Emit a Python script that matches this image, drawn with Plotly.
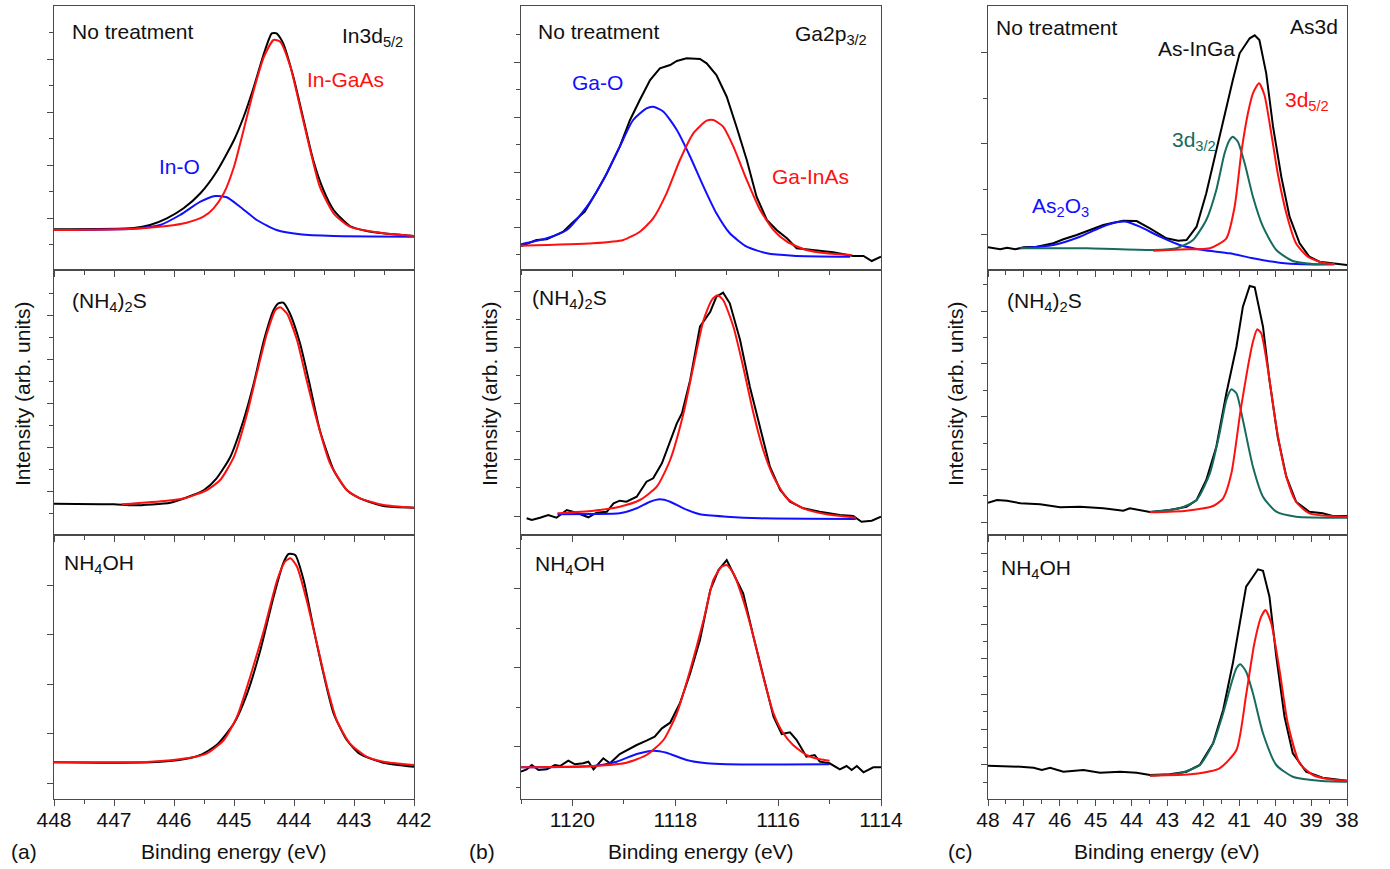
import plotly.graph_objects as go

# ---------------- data (binding energy in eV, intensity in arb. units) ----------------
# Column (a) In3d5/2
A1_bk_x = [448, 446.67, 446.4, 446.12, 445.84, 445.56, 445.29, 445.0, 444.84, 444.67, 444.5, 444.37, 444.29, 444.18, 444.01, 443.84, 443.68, 443.51, 443.34, 443.07, 442.79, 442.51, 442]
A1_bk_y = [40.7, 42, 45, 51.7, 61.7, 76.7, 98.3, 130, 153, 183, 216.7, 236.7, 236.7, 226.7, 193, 150, 110, 80, 60, 44, 39, 36.7, 34]
A1_rd_x = [448, 446.67, 446.12, 445.79, 445.51, 445.34, 445.17, 445.0, 444.84, 444.67, 444.5, 444.34, 444.23, 444.06, 443.9, 443.73, 443.57, 443.34, 443.07, 442.51, 442]
A1_rd_y = [40, 41.3, 44, 47.3, 53.3, 61.7, 76.7, 103.3, 140, 180, 213.3, 230, 228.3, 203.3, 163.3, 120, 83.3, 56.7, 43.3, 36.7, 34]
A1_bl_x = [448, 446.67, 446.23, 445.9, 445.56, 445.31, 445.12, 444.9, 444.62, 444.29, 443.9, 443.34, 442]
A1_bl_y = [40, 41.3, 45, 55, 68.3, 74, 72.7, 63.3, 50, 40, 35.7, 34, 33.3]

A2_bk_x = [448, 447.0, 446.67, 446.06, 445.78, 445.5, 445.29, 445.06, 444.84, 444.67, 444.5, 444.34, 444.26, 444.18, 444.07, 443.9, 443.73, 443.57, 443.34, 443.12, 442.9, 442.51, 442]
A2_bk_y = [31.3, 30.7, 29.7, 32.3, 37.7, 45, 56.7, 78.3, 115, 151.7, 195, 225, 231.7, 232.3, 221.7, 191.7, 148.3, 105, 65, 45, 36.7, 29, 27.3]
A2_rd_x = [446.87, 446.12, 445.79, 445.45, 445.23, 445.0, 444.78, 444.62, 444.45, 444.31, 444.23, 444.12, 443.95, 443.79, 443.62, 443.4, 443.12, 442.9, 442.51, 442]
A2_rd_y = [30.7, 34.3, 37.3, 45, 55, 78.3, 121.7, 161.7, 201.7, 225, 227.7, 221.7, 195, 155, 115, 71.7, 45, 36.7, 30, 27.3]

A3_bk_x = [448, 447.23, 446.4, 445.84, 445.56, 445.29, 445.0, 444.78, 444.56, 444.34, 444.18, 444.09, 443.98, 443.84, 443.68, 443.51, 443.34, 443.12, 442.9, 442.51, 442]
A3_bk_y = [36.7, 36.3, 36.7, 39.7, 44, 54, 75.7, 105.7, 149, 202.3, 235.7, 245, 244, 219, 172.3, 125.7, 85.7, 59, 45, 36.3, 32.3]
A3_rd_x = [448, 446.4, 445.79, 445.45, 445.17, 444.95, 444.73, 444.5, 444.28, 444.15, 444.06, 443.95, 443.79, 443.62, 443.45, 443.29, 443.07, 442.79, 442.51, 442]
A3_rd_y = [36.7, 37.3, 40.7, 45.7, 59, 82.3, 122.3, 169, 219, 237.3, 240.7, 232.3, 199, 155.7, 112.3, 79, 55.7, 42.3, 37.3, 34]

# Column (b) Ga2p3/2
B1_bk_x = [1121, 1120.70, 1120.5, 1120.18, 1119.98, 1119.76, 1119.53, 1119.33, 1119.08, 1118.88, 1118.69, 1118.49, 1118.30, 1118.10, 1117.97, 1117.78, 1117.52, 1117.39, 1117.2, 1117.0, 1116.81, 1116.61, 1116.42, 1116.22, 1116.03, 1115.83, 1115.64, 1115.32, 1114.93, 1114.54, 1114.34, 1114.18, 1114]
B1_bk_y = [24, 30, 30.7, 38.3, 48.3, 58.3, 78.3, 96.7, 123.3, 150, 170, 190, 201.7, 205, 209, 211.7, 211, 206.7, 195, 173.3, 143.3, 110, 73.3, 50, 40, 31.7, 21.7, 20, 17.7, 14, 14, 9, 13.3]
B1_bl_x = [1121, 1120.5, 1120.11, 1119.72, 1119.4, 1119.08, 1118.82, 1118.56, 1118.43, 1118.23, 1117.97, 1117.71, 1117.45, 1117.2, 1116.94, 1116.61, 1116.22, 1115.71, 1114.6]
B1_bl_y = [25.7, 31.7, 40, 63.3, 90, 123.3, 150, 161.7, 163.3, 158.3, 140, 113.3, 83.3, 56.7, 36.7, 23.3, 16.7, 14.3, 13.3]
B1_rd_x = [1121, 1119.6, 1119.01, 1118.69, 1118.43, 1118.17, 1117.91, 1117.65, 1117.39, 1117.26, 1117.07, 1116.87, 1116.61, 1116.35, 1116.09, 1115.83, 1115.45, 1115.06, 1114.57]
B1_rd_y = [24.3, 26.7, 30, 38.3, 51.7, 76.7, 110, 136.7, 149.3, 150, 143.3, 123.3, 90, 60, 40, 28.3, 20, 16.7, 15]

B2_bk_x = [1120.89, 1120.79, 1120.63, 1120.47, 1120.31, 1120.11, 1119.92, 1119.69, 1119.53, 1119.33, 1119.2, 1119.08, 1118.95, 1118.75, 1118.56, 1118.43, 1118.26, 1118.1, 1117.97, 1117.87, 1117.71, 1117.52, 1117.32, 1117.2, 1117.07, 1116.94, 1116.74, 1116.55, 1116.35, 1116.16, 1115.96, 1115.77, 1115.51, 1115.19, 1114.8, 1114.54, 1114.38, 1114.18, 1114]
B2_bk_y = [16.7, 15, 17.3, 20, 17.3, 25, 22.3, 17.7, 22.3, 23.3, 31.7, 34.3, 33.3, 38.3, 53.3, 56.7, 71.7, 93.3, 111.7, 121.7, 155, 208.3, 223.3, 238.3, 242.3, 231.7, 195, 148.3, 108.3, 68.3, 45, 33.3, 26.7, 23.3, 20, 19, 13.3, 14.3, 18.3]
B2_rd_x = [1120.29, 1119.59, 1119.08, 1118.69, 1118.36, 1118.1, 1117.84, 1117.65, 1117.45, 1117.29, 1117.18, 1117.07, 1116.87, 1116.68, 1116.48, 1116.29, 1116.09, 1115.83, 1115.51, 1115.06, 1114.49]
B2_rd_y = [21.7, 24.3, 28.3, 35, 48.3, 75, 121.7, 168.3, 215, 235, 239.7, 235, 208.3, 168.3, 121.7, 85, 58.3, 36.7, 26.7, 20.7, 17.3]
B2_bl_x = [1120.29, 1119.59, 1119.08, 1118.75, 1118.49, 1118.3, 1118.1, 1117.84, 1117.52, 1117.0, 1116.35, 1114.49]
B2_bl_y = [20.7, 21, 21.7, 26.7, 33.3, 35.7, 33.3, 26.7, 20.7, 18.3, 16.7, 16]

B3_bk_x = [1121, 1120.89, 1120.79, 1120.66, 1120.5, 1120.34, 1120.24, 1120.08, 1119.95, 1119.79, 1119.69, 1119.59, 1119.4, 1119.27, 1119.08, 1118.88, 1118.75, 1118.56, 1118.4, 1118.26, 1118.1, 1117.91, 1117.71, 1117.52, 1117.32, 1117.16, 1117.0, 1116.84, 1116.68, 1116.48, 1116.29, 1116.09, 1115.93, 1115.77, 1115.64, 1115.45, 1115.29, 1115.19, 1115.0, 1114.8, 1114.67, 1114.57, 1114.47, 1114.34, 1114.15, 1114]
B3_bk_y = [27.3, 29.7, 34, 29, 29.7, 34, 33, 38.3, 34.7, 35.7, 37.3, 29.7, 40.7, 35.7, 45, 50.7, 54, 58.3, 62.3, 70.7, 76.3, 95.7, 125.7, 159, 209, 229, 239, 222.3, 205.7, 162.3, 122.3, 82.3, 65, 66.7, 59, 42.3, 44, 37.3, 35.7, 29.7, 33, 29, 33, 26.7, 31.7, 31.7]
B3_rd_x = [1121, 1119.59, 1118.95, 1118.56, 1118.23, 1117.97, 1117.71, 1117.45, 1117.26, 1117.1, 1117.0, 1116.87, 1116.68, 1116.48, 1116.29, 1116.09, 1115.9, 1115.71, 1115.45, 1115.19, 1115.0]
B3_rd_y = [31.7, 33, 36.3, 44, 59, 85.7, 129, 179, 219, 232.3, 234, 225.7, 199, 162.3, 122.3, 85.7, 65.7, 54, 44, 39.7, 38.3]
B3_bl_x = [1121, 1119.59, 1119.14, 1118.75, 1118.43, 1118.17, 1117.78, 1117.39, 1117.0, 1115.0]
B3_bl_y = [31.7, 33, 37.3, 45, 48.3, 46.3, 39, 35.7, 34.7, 34.7]

# Column (c) As3d
C1_bk_x = [48, 47.66, 47.47, 47.24, 47.01, 46.64, 46.18, 45.9, 45.53, 45.16, 44.79, 44.51, 44.23, 43.86, 43.49, 43.03, 42.7, 42.47, 42.19, 41.92, 41.64, 41.36, 41.18, 40.99, 40.71, 40.57, 40.44, 40.25, 40.06, 39.83, 39.6, 39.32, 39.05, 38.77, 38.4, 38]
C1_bk_y = [22.7, 20.7, 22.3, 20.7, 22.7, 23.3, 26.7, 30.7, 35, 40, 45, 47.3, 49.3, 49, 41.7, 31.7, 29.3, 30, 43.3, 76.7, 120, 163.3, 190, 216.7, 231.7, 234.7, 230, 196.7, 143.3, 93.3, 53.3, 26.7, 13.3, 8.3, 6.7, 5]
C1_bl_x = [47.1, 46.18, 45.44, 44.88, 44.42, 44.14, 43.77, 43.21, 42.66, 42.01, 41.27, 40.62, 39.88, 39.23, 38.4]
C1_bl_y = [21.7, 25, 33.3, 42.3, 47.7, 48.3, 43.3, 33.3, 25, 20, 16.7, 11.7, 7.3, 5.7, 5.7]
C1_tl_x = [47.1, 45.25, 43.4, 42.75, 42.29, 41.92, 41.64, 41.41, 41.27, 41.18, 41.04, 40.85, 40.62, 40.34, 39.97, 39.51, 38.95, 38.35]
C1_tl_y = [21.7, 21.7, 20, 21.7, 30, 50, 80, 116.7, 130, 133.3, 128.3, 106.7, 73.3, 43.3, 20, 9, 6, 5.7]
C1_rd_x = [43.4, 42.47, 41.82, 41.36, 41.13, 40.94, 40.76, 40.62, 40.45, 40.3, 40.11, 39.93, 39.69, 39.42, 39.09, 38.68, 38.35]
C1_rd_y = [19.3, 20.7, 21.7, 31.7, 63.3, 118.3, 156.7, 176.7, 186.7, 175, 136.7, 96.7, 56.7, 26.7, 13.3, 7.3, 5.7]

C2_bk_x = [48, 47.75, 47.47, 47.1, 46.55, 45.99, 45.44, 44.79, 44.23, 44.05, 43.49, 42.94, 42.47, 42.19, 41.92, 41.64, 41.36, 41.08, 40.9, 40.71, 40.57, 40.34, 40.16, 39.93, 39.69, 39.42, 39.05, 38.68, 38.4, 38]
C2_bk_y = [32.3, 35, 34.3, 31.7, 30.7, 27.7, 28.3, 26.7, 24.3, 26.7, 23, 25, 28.3, 35, 55, 88.3, 141.7, 188.3, 228.3, 249, 247.7, 208.3, 155, 98.3, 58.3, 33.3, 23.3, 21.7, 19, 19]
C2_tl_x = [43.49, 42.66, 42.19, 41.82, 41.55, 41.36, 41.22, 41.08, 40.9, 40.62, 40.34, 39.97, 39.42, 38]
C2_tl_y = [23, 26.7, 35, 61.7, 101.7, 135, 145.7, 141.7, 115, 68.3, 38.3, 23.3, 18.3, 17.3]
C2_rd_x = [43.49, 42.47, 41.73, 41.45, 41.22, 40.97, 40.76, 40.62, 40.5, 40.39, 40.2, 39.97, 39.69, 39.42, 39.05, 38]
C2_rd_y = [22.7, 24.3, 29, 36.7, 61.7, 123.3, 168.3, 193.3, 205.7, 201.7, 165, 108.3, 58.3, 33.3, 21.7, 18.3]

C3_bk_x = [48, 47.56, 47.1, 46.73, 46.5, 46.27, 45.9, 45.34, 44.88, 44.32, 43.86, 43.49, 42.94, 42.47, 42.1, 41.73, 41.45, 41.18, 40.99, 40.81, 40.62, 40.48, 40.34, 40.16, 39.97, 39.74, 39.51, 39.14, 38.68, 38]
C3_bk_y = [33.3, 33, 32.3, 31.3, 29, 31.3, 27.3, 29, 26.3, 27.3, 26.3, 24, 24.7, 27.3, 34, 55.7, 89, 135.7, 175.7, 212.3, 222.3, 229.7, 228.3, 202.3, 142.3, 82.3, 45.7, 27.3, 21.3, 18.3]
C3_tl_x = [43.49, 42.66, 42.1, 41.73, 41.45, 41.22, 41.08, 40.97, 40.81, 40.62, 40.34, 39.97, 39.51, 38.77, 38]
C3_tl_y = [23.3, 25.7, 34, 55.7, 85.7, 115.7, 130.7, 134.7, 127.3, 105.7, 65.7, 34, 22.3, 18.3, 17.3]
C3_rd_x = [43.49, 42.29, 41.55, 41.08, 40.81, 40.58, 40.39, 40.27, 40.11, 39.88, 39.65, 39.32, 38.95, 38.49, 38]
C3_rd_y = [23.3, 25, 30.7, 49, 104, 155.7, 182.3, 189, 175.7, 129, 75.7, 35.7, 24, 19.7, 18.3]

# axis ticks
XA_ticks = [448, 447, 446, 445, 444, 443, 442]
XA_minor = [447.5, 446.5, 445.5, 444.5, 443.5, 442.5]
XB_ticks = [1120, 1118, 1116, 1114]
XB_minor = [1121, 1119, 1117, 1115]
XC_ticks = [48, 47, 46, 45, 44, 43, 42, 41, 40, 39, 38]
XC_minor = [47.5, 46.5, 45.5, 44.5, 43.5, 42.5, 41.5, 40.5, 39.5, 38.5]
X_ranges = [[448, 442], [1121, 1114], [48, 38]]

Y_ticks = {
    (0, 0): ([52, 105, 158, 211], [26, 79, 132, 185, 238]),
    (1, 0): ([44, 88, 132, 176, 220], [22, 66, 110, 154, 198, 242]),
    (2, 0): ([16, 66, 115, 165, 214], []),
    (0, 1): ([43, 98, 153, 208], [16, 71, 126, 181, 236]),
    (1, 1): ([19, 76, 132, 188, 244], [48, 104, 160, 216]),
    (2, 1): ([53, 132, 211], [12, 92, 171, 251]),
    (0, 2): ([36, 127, 218], [81, 172]),
    (1, 2): ([13, 66, 119, 172, 224], [40, 92, 145, 198, 251]),
    (2, 2): ([35, 70, 105, 141, 175, 211, 246], [17, 52, 88, 123, 158, 193, 228]),
}

# ---------------- styling / layout ----------------
BLACK = "#000000"
RED = "#FF1010"
BLUE = "#1010FF"
TEAL = "#166B5E"
FONT = "Liberation Sans, Arial, sans-serif"
AXC = "#4a4a4a"
FS = 21

W, H = 1390, 869
L, R, T, B = 54, 43, 6, 70
PW = W - L - R
PH = H - T - B
col_px = [(54, 414), (521, 881), (988, 1347)]
row_px = [(6, 270), (270, 535), (535, 799)]


def xdom(c):
    return [(col_px[c][0] - L) / PW, (col_px[c][1] - L) / PW]


def ydom(r):
    return [(H - B - row_px[r][1]) / PH, (H - B - row_px[r][0]) / PH]


def aid(i):
    return "" if i == 1 else str(i)


panels = {
    (0, 0): [(A1_bk_x, A1_bk_y, BLACK), (A1_bl_x, A1_bl_y, BLUE), (A1_rd_x, A1_rd_y, RED)],
    (1, 0): [(A2_bk_x, A2_bk_y, BLACK), (A2_rd_x, A2_rd_y, RED)],
    (2, 0): [(A3_bk_x, A3_bk_y, BLACK), (A3_rd_x, A3_rd_y, RED)],
    (0, 1): [(B1_bk_x, B1_bk_y, BLACK), (B1_bl_x, B1_bl_y, BLUE), (B1_rd_x, B1_rd_y, RED)],
    (1, 1): [(B2_bk_x, B2_bk_y, BLACK), (B2_bl_x, B2_bl_y, BLUE), (B2_rd_x, B2_rd_y, RED)],
    (2, 1): [(B3_bk_x, B3_bk_y, BLACK), (B3_bl_x, B3_bl_y, BLUE), (B3_rd_x, B3_rd_y, RED)],
    (0, 2): [(C1_bk_x, C1_bk_y, BLACK), (C1_bl_x, C1_bl_y, BLUE), (C1_tl_x, C1_tl_y, TEAL), (C1_rd_x, C1_rd_y, RED)],
    (1, 2): [(C2_bk_x, C2_bk_y, BLACK), (C2_tl_x, C2_tl_y, TEAL), (C2_rd_x, C2_rd_y, RED)],
    (2, 2): [(C3_bk_x, C3_bk_y, BLACK), (C3_tl_x, C3_tl_y, TEAL), (C3_rd_x, C3_rd_y, RED)],
}

xt = [(XA_ticks, XA_minor), (XB_ticks, XB_minor), (XC_ticks, XC_minor)]

fig = go.Figure()
layout = dict(
    width=W, height=H, margin=dict(l=L, r=R, t=T, b=B, autoexpand=False),
    paper_bgcolor="white", plot_bgcolor="white", showlegend=False,
    font=dict(family=FONT, size=FS, color="#111111"),
)

for r in range(3):
    for c in range(3):
        i = r * 3 + c + 1
        yh = row_px[r][1] - row_px[r][0]
        for (xs, ys, col) in panels[(r, c)]:
            noisy = col == BLACK and c > 0
            fig.add_trace(go.Scatter(
                x=xs, y=ys, mode="lines",
                line=dict(color=col, width=2,
                          shape="linear" if noisy else "spline",
                          smoothing=0.6),
                xaxis="x" + aid(i), yaxis="y" + aid(i), hoverinfo="skip"))
        ytv, ymn = Y_ticks[(r, c)]
        layout["xaxis" + aid(i)] = dict(
            domain=xdom(c), anchor="y" + aid(i), range=X_ranges[c],
            showline=True, linecolor=AXC, linewidth=1.3, mirror=True,
            ticks="outside", ticklen=6, tickwidth=1.2, tickcolor=AXC,
            tickvals=xt[c][0], showticklabels=(r == 2),
            ticklabelstandoff=-4,
            tickfont=dict(size=FS, family=FONT, color="#111111"),
            minor=dict(tickvals=xt[c][1], ticks="outside", ticklen=3.5,
                       tickwidth=1.2, tickcolor=AXC, showgrid=False),
            showgrid=False, zeroline=False, fixedrange=True)
        layout["yaxis" + aid(i)] = dict(
            domain=ydom(r), anchor="x" + aid(i), range=[0, yh],
            showline=True, linecolor=AXC, linewidth=1.3, mirror=True,
            ticks="outside", ticklen=6, tickwidth=1.2, tickcolor=AXC,
            tickvals=ytv, showticklabels=False,
            minor=dict(tickvals=ymn, ticks="outside", ticklen=3.5,
                       tickwidth=1.2, tickcolor=AXC, showgrid=False),
            showgrid=False, zeroline=False, fixedrange=True)
        # right-side ticks pointing inward
        layout["yaxis" + str(9 + i)] = dict(
            overlaying="y" + aid(i), anchor="x" + aid(i), side="right",
            range=[0, yh], showline=False, ticks="inside", ticklen=6,
            tickwidth=1.2, tickcolor=AXC, tickvals=ytv, showticklabels=False,
            minor=dict(tickvals=ymn, ticks="inside", ticklen=3.5,
                       tickwidth=1.2, tickcolor=AXC, showgrid=False),
            showgrid=False, zeroline=False, fixedrange=True)
        if r == 0:
            layout["xaxis" + str(10 + c)] = dict(
                overlaying="x" + aid(i), anchor="y" + aid(i), side="top",
                range=X_ranges[c], showline=False, ticks="inside", ticklen=6,
                tickwidth=1.2, tickcolor=AXC, tickvals=xt[c][0],
                showticklabels=False,
                minor=dict(tickvals=xt[c][1], ticks="inside", ticklen=3.5,
                           tickwidth=1.2, tickcolor=AXC, showgrid=False),
                showgrid=False, zeroline=False, fixedrange=True)


def ann(text, px, py, color="#111111", size=FS, xanchor="left", angle=0):
    return dict(text=text, x=(px - L) / PW, y=(H - B - py) / PH,
                xref="paper", yref="paper", showarrow=False,
                font=dict(color=color, size=size, family=FONT),
                xanchor=xanchor, yanchor="middle", textangle=angle)


anns = [
    ann("No treatment", 70, 31),
    ann("In3d<sub>5/2</sub>", 340, 37),
    ann("In-GaAs", 305, 80, RED),
    ann("In-O", 157, 167, BLUE),
    ann("No treatment", 536, 31),
    ann("Ga2p<sub>3/2</sub>", 793, 35),
    ann("Ga-O", 570, 82, BLUE),
    ann("Ga-InAs", 770, 176, RED),
    ann("No treatment", 994, 27.5),
    ann("As3d", 1288, 27),
    ann("As-InGa", 1156, 48),
    ann("3d<sub>5/2</sub>", 1283, 101, RED),
    ann("3d<sub>3/2</sub>", 1170, 141, TEAL),
    ann("As<sub>2</sub>O<sub>3</sub>", 1030, 207, BLUE),
    ann("(NH<sub>4</sub>)<sub>2</sub>S", 70, 302),
    ann("(NH<sub>4</sub>)<sub>2</sub>S", 530, 299),
    ann("(NH<sub>4</sub>)<sub>2</sub>S", 1005, 302),
    ann("NH<sub>4</sub>OH", 62, 564),
    ann("NH<sub>4</sub>OH", 533, 565),
    ann("NH<sub>4</sub>OH", 999, 569),
    ann("Binding energy (eV)", 234, 852, xanchor="center"),
    ann("Binding energy (eV)", 701, 852, xanchor="center"),
    ann("Binding energy (eV)", 1167, 852, xanchor="center"),
    ann("(a)", 24, 852, xanchor="center"),
    ann("(b)", 482, 852, xanchor="center"),
    ann("(c)", 960, 852, xanchor="center"),
    ann("Intensity (arb. units)", 22, 394, xanchor="center", angle=-90),
    ann("Intensity (arb. units)", 489, 394, xanchor="center", angle=-90),
    ann("Intensity (arb. units)", 955, 394, xanchor="center", angle=-90),
]
layout["annotations"] = anns
fig.update_layout(**layout)
fig.write_html("out.html", config={"displayModeBar": False},
               post_script="document.body.style.margin='0';")
